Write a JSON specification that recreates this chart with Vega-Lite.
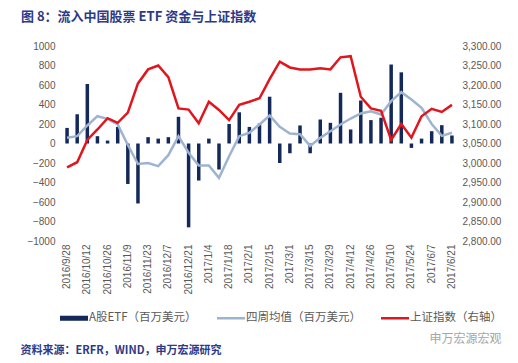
{
  "$schema": "https://vega.github.io/schema/vega-lite/v6.json",
  "width": 395,
  "height": 195,
  "autosize": {"type": "none"},
  "padding": {"left": 62, "top": 46, "right": 61, "bottom": 122},
  "background": "white",
  "config": {
    "view": {"stroke": null},
    "axis": {"labelFont": "Liberation Sans", "labelFontSize": 10, "labelColor": "#595959", "grid": false, "ticks": false, "domain": false, "labelOverlap": false}
  },
  "title": {
    "text": "图 8：流入中国股票 ETF 资金与上证指数",
    "anchor": "start",
    "frame": "group",
    "dx": -41,
    "offset": 17,
    "font": "Noto Sans CJK SC",
    "fontSize": 13,
    "fontWeight": "bold",
    "color": "#2E3A87"
  },
  "data": {
    "values": [
      {"d": "2016/9/28", "etf": 160, "avg": 58, "sh": 2989},
      {"d": "2016/10/5", "etf": 300, "avg": 75, "sh": 3002},
      {"d": "2016/10/12", "etf": 610, "avg": 185, "sh": 3059},
      {"d": "2016/10/19", "etf": 75, "avg": 280, "sh": 3086},
      {"d": "2016/10/26", "etf": 30, "avg": 253, "sh": 3115},
      {"d": "2016/11/2", "etf": 170, "avg": 195, "sh": 3103},
      {"d": "2016/11/9", "etf": -415, "avg": -15, "sh": 3129},
      {"d": "2016/11/16", "etf": -615, "avg": -210, "sh": 3204},
      {"d": "2016/11/23", "etf": 65, "avg": -200, "sh": 3240},
      {"d": "2016/11/30", "etf": 50, "avg": -232, "sh": 3250},
      {"d": "2016/12/7", "etf": 65, "avg": -120, "sh": 3220},
      {"d": "2016/12/14", "etf": 274, "avg": 75, "sh": 3140},
      {"d": "2016/12/21", "etf": -860, "avg": -95, "sh": 3137},
      {"d": "2016/12/28", "etf": -380, "avg": -226, "sh": 3102},
      {"d": "2017/1/4", "etf": 50, "avg": -226, "sh": 3157},
      {"d": "2017/1/11", "etf": -267, "avg": -352, "sh": 3136},
      {"d": "2017/1/18", "etf": 200, "avg": -130, "sh": 3110},
      {"d": "2017/1/25", "etf": 320, "avg": 75, "sh": 3149},
      {"d": "2017/2/1", "etf": 170, "avg": 110, "sh": 3157},
      {"d": "2017/2/8", "etf": 205, "avg": 195, "sh": 3166},
      {"d": "2017/2/15", "etf": 480, "avg": 287, "sh": 3215},
      {"d": "2017/2/22", "etf": -200, "avg": 171, "sh": 3260},
      {"d": "2017/3/1", "etf": -100, "avg": 103, "sh": 3245},
      {"d": "2017/3/8", "etf": 185, "avg": 96, "sh": 3240},
      {"d": "2017/3/15", "etf": -100, "avg": -25, "sh": 3240},
      {"d": "2017/3/22", "etf": 246, "avg": 58, "sh": 3243},
      {"d": "2017/3/29", "etf": 212, "avg": 126, "sh": 3240},
      {"d": "2017/4/5", "etf": 520, "avg": 195, "sh": 3271},
      {"d": "2017/4/12", "etf": 144, "avg": 256, "sh": 3274},
      {"d": "2017/4/19", "etf": 441, "avg": 308, "sh": 3170},
      {"d": "2017/4/26", "etf": 240, "avg": 331, "sh": 3140},
      {"d": "2017/5/3", "etf": 264, "avg": 298, "sh": 3134},
      {"d": "2017/5/10", "etf": 810, "avg": 434, "sh": 3059},
      {"d": "2017/5/17", "etf": 730, "avg": 526, "sh": 3100},
      {"d": "2017/5/24", "etf": -45, "avg": 451, "sh": 3065},
      {"d": "2017/5/31", "etf": 50, "avg": 366, "sh": 3120},
      {"d": "2017/6/7", "etf": 126, "avg": 200, "sh": 3139},
      {"d": "2017/6/14", "etf": 188, "avg": 78, "sh": 3131},
      {"d": "2017/6/21", "etf": 82, "avg": 110, "sh": 3149}
    ]
  },
  "encoding": {
    "x": {
      "field": "d",
      "type": "ordinal",
      "sort": null,
      "scale": {"paddingInner": 0.1, "paddingOuter": 0.05},
      "axis": {
        "labelAngle": -90,
        "labelPadding": 3,
        "values": ["2016/9/28", "2016/10/12", "2016/10/26", "2016/11/9", "2016/11/23", "2016/12/7", "2016/12/21", "2017/1/4", "2017/1/18", "2017/2/1", "2017/2/15", "2017/3/1", "2017/3/15", "2017/3/29", "2017/4/12", "2017/4/26", "2017/5/10", "2017/5/24", "2017/6/7", "2017/6/21"],
        "title": "资料来源：ERFR，WIND，申万宏源研究",
        "titleFont": "Noto Sans CJK SC",
        "titleFontSize": 11,
        "titleFontWeight": "bold",
        "titleColor": "#2E3A87",
        "titleAnchor": "start",
        "titleAlign": "left",
        "titleBaseline": "middle",
        "titleX": -42,
        "titleY": 109
      }
    }
  },
  "layer": [
    {
      "layer": [
        {
          "mark": {"type": "bar", "size": 3.5},
          "encoding": {
            "y": {
              "field": "etf",
              "type": "quantitative",
              "scale": {"domain": [-1000, 1000], "nice": false},
              "axis": {"values": [-1000, -800, -600, -400, -200, 0, 200, 400, 600, 800, 1000], "tickCount": 11, "format": "d", "labelOverlap": false, "labelBound": false, "labelPadding": 7, "title": null}
            },
            "color": {
              "datum": "A股ETF（百万美元）",
              "scale": {"domain": ["A股ETF（百万美元）", "四周均值（百万美元）", "上证指数（右轴）"], "range": ["#14295A", "#9DB4D0", "#E0161E"]},
              "legend": {
                "orient": "none",
                "legendX": -2,
                "legendY": 258,
                "direction": "horizontal",
                "title": null,
                "symbolSize": 784,
                "labelFont": "Noto Sans CJK SC",
                "labelFontSize": 11.5,
                "labelColor": "#595959",
                "labelOffset": 1,
                "columnPadding": 20,
                "encode": {
                  "symbols": {
                    "update": {
                      "shape": {"signal": "datum.value === 'A股ETF（百万美元）' ? 'M-1,-0.18H1V0.18H-1Z' : 'M-1,-0.09H1V0.09H-1Z'"},
                      "fill": {"scale": "color", "field": "value"},
                      "fillOpacity": {"value": 1},
                      "strokeWidth": {"value": 0}
                    }
                  }
                }
              }
            }
          }
        },
        {
          "mark": {"type": "rule", "color": "#C8C8C8", "strokeWidth": 1, "strokeDash": [2, 2]},
          "encoding": {"y": {"datum": 0, "type": "quantitative"}}
        },
        {
          "mark": {"type": "line", "strokeWidth": 2.5},
          "encoding": {
            "y": {"field": "avg", "type": "quantitative"},
            "color": {"datum": "四周均值（百万美元）"}
          }
        }
      ]
    },
    {
      "mark": {"type": "line", "strokeWidth": 2.5},
      "encoding": {
        "y": {
          "field": "sh",
          "type": "quantitative",
          "scale": {"domain": [2800, 3300], "nice": false, "zero": false},
          "axis": {
            "orient": "right",
            "format": ",.2f",
            "values": [2800, 2850, 2900, 2950, 3000, 3050, 3100, 3150, 3200, 3250, 3300],
            "tickCount": 11,
            "labelPadding": 5,
            "title": "申万宏源宏观",
            "titleAngle": 0,
            "titleFont": "Noto Sans CJK SC",
            "titleFontSize": 12,
            "titleFontWeight": "normal",
            "titleColor": "#A6A6A6",
            "titleAlign": "right",
            "titleBaseline": "middle",
            "titleX": 44,
            "titleY": 292
          }
        },
        "color": {"datum": "上证指数（右轴）"}
      }
    }
  ],
  "resolve": {"scale": {"y": "independent"}}
}
